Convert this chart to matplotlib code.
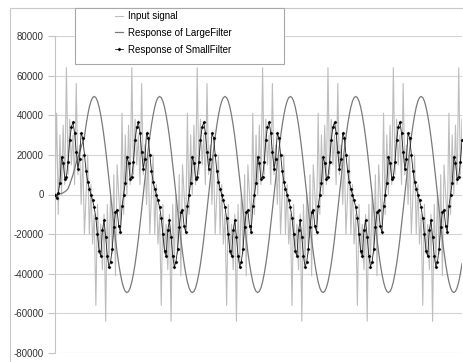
import numpy as np
import matplotlib
matplotlib.use("Agg")
import matplotlib.pyplot as plt
from matplotlib.patches import Rectangle

plt.rcParams['font.family'] = ['Liberation Sans', 'DejaVu Sans']
plt.rcParams['axes.unicode_minus'] = False

# values, one sample every ~1.6 px, 40 samples per cycle
input_signal = [
    0, 41000, -10000, 30000, 0, 35000, 5000, 64000, 10000, 38000,
    15000, 30000, 5000, 56000, 10000, 25000, -5000, 20000, -20000, 0,
    20000, -20000, 5000, -25000, -10000, -56000, -5000, -30000, -15000, -38000,
    -10000, -64000, -5000, -35000, 0, -30000, 10000, -41000, 15000, 0,
    -15000, 41000, -10000, 30000, 0, 35000, 5000, 64000, 10000, 38000,
    15000, 30000, 5000, 56000, 10000, 25000, -5000, 20000, -20000, 0,
    20000, -20000, 5000, -25000, -10000, -56000, -5000, -30000, -15000, -38000,
    -10000, -64000, -5000, -35000, 0, -30000, 10000, -41000, 15000, 0,
    -15000, 41000, -10000, 30000, 0, 35000, 5000, 64000, 10000, 38000,
    15000, 30000, 5000, 56000, 10000, 25000, -5000, 20000, -20000, 0,
    20000, -20000, 5000, -25000, -10000, -56000, -5000, -30000, -15000, -38000,
    -10000, -64000, -5000, -35000, 0, -30000, 10000, -41000, 15000, 0,
    -15000, 41000, -10000, 30000, 0, 35000, 5000, 64000, 10000, 38000,
    15000, 30000, 5000, 56000, 10000, 25000, -5000, 20000, -20000, 0,
    20000, -20000, 5000, -25000, -10000, -56000, -5000, -30000, -15000, -38000,
    -10000, -64000, -5000, -35000, 0, -30000, 10000, -41000, 15000, 0,
    -15000, 41000, -10000, 30000, 0, 35000, 5000, 64000, 10000, 38000,
    15000, 30000, 5000, 56000, 10000, 25000, -5000, 20000, -20000, 0,
    20000, -20000, 5000, -25000, -10000, -56000, -5000, -30000, -15000, -38000,
    -10000, -64000, -5000, -35000, 0, -30000, 10000, -41000, 15000, 0,
    -15000, 41000, -10000, 30000, 0, 35000, 5000, 64000, 10000, 38000,
    15000, 30000, 5000, 56000, 10000, 25000, -5000, 20000, -20000, 0,
    20000, -20000, 5000, -25000, -10000, -56000, -5000, -30000, -15000, -38000,
    -10000, -64000, -5000, -35000, 0, -30000, 10000, -41000, 15000, 0,
    -15000, 41000, -10000, 30000, 0, 35000, 5000, 64000, 10000, 38000,
]

large_filter = [
    0, 0, 100, 300, 500, 900, 1400, 2000, 3000, 5000,
    7500, 10000, 13000, 16000, 18500, 21000, 24000, 26500, 29100, 35000,
    40000, 44100, 47100, 48900, 49500, 48900, 47100, 44100, 40000, 35000,
    29100, 22500, 15300, 7700, 0, -7700, -15300, -22500, -29100, -35000,
    -40000, -44100, -47100, -48900, -49500, -48900, -47100, -44100, -40000, -35000,
    -29100, -22500, -15300, -7700, 0, 7700, 15300, 22500, 29100, 35000,
    40000, 44100, 47100, 48900, 49500, 48900, 47100, 44100, 40000, 35000,
    29100, 22500, 15300, 7700, 0, -7700, -15300, -22500, -29100, -35000,
    -40000, -44100, -47100, -48900, -49500, -48900, -47100, -44100, -40000, -35000,
    -29100, -22500, -15300, -7700, 0, 7700, 15300, 22500, 29100, 35000,
    40000, 44100, 47100, 48900, 49500, 48900, 47100, 44100, 40000, 35000,
    29100, 22500, 15300, 7700, 0, -7700, -15300, -22500, -29100, -35000,
    -40000, -44100, -47100, -48900, -49500, -48900, -47100, -44100, -40000, -35000,
    -29100, -22500, -15300, -7700, 0, 7700, 15300, 22500, 29100, 35000,
    40000, 44100, 47100, 48900, 49500, 48900, 47100, 44100, 40000, 35000,
    29100, 22500, 15300, 7700, 0, -7700, -15300, -22500, -29100, -35000,
    -40000, -44100, -47100, -48900, -49500, -48900, -47100, -44100, -40000, -35000,
    -29100, -22500, -15300, -7700, 0, 7700, 15300, 22500, 29100, 35000,
    40000, 44100, 47100, 48900, 49500, 48900, 47100, 44100, 40000, 35000,
    29100, 22500, 15300, 7700, 0, -7700, -15300, -22500, -29100, -35000,
    -40000, -44100, -47100, -48900, -49500, -48900, -47100, -44100, -40000, -35000,
    -29100, -22500, -15300, -7700, 0, 7700, 15300, 22500, 29100, 35000,
    40000, 44100, 47100, 48900, 49500, 48900, 47100, 44100, 40000, 35000,
    29100, 22500, 15300, 7700, 0, -7700, -15300, -22500, -29100, -35000,
    -40000, -44100, -47100, -48900, -49500, -48900, -47100, -44100, -40000, -35000,
]

small_filter = [
    0, -2000, 1000, 6000, 19000, 16000, 8000, 9000, 16500, 27500,
    34000, 36500, 31000, 21500, 13000, 18000, 31000, 28500, 20000, 12000,
    6500, 3000, 0, -3000, -6500, -12000, -20000, -28500, -31000, -18000,
    -13000, -21500, -31000, -36500, -34000, -27500, -16500, -9000, -8000, -16000,
    -19000, -6000, 0, 6000, 19000, 16000, 8000, 9000, 16500, 27500,
    34000, 36500, 31000, 21500, 13000, 18000, 31000, 28500, 20000, 12000,
    6500, 3000, 0, -3000, -6500, -12000, -20000, -28500, -31000, -18000,
    -13000, -21500, -31000, -36500, -34000, -27500, -16500, -9000, -8000, -16000,
    -19000, -6000, 0, 6000, 19000, 16000, 8000, 9000, 16500, 27500,
    34000, 36500, 31000, 21500, 13000, 18000, 31000, 28500, 20000, 12000,
    6500, 3000, 0, -3000, -6500, -12000, -20000, -28500, -31000, -18000,
    -13000, -21500, -31000, -36500, -34000, -27500, -16500, -9000, -8000, -16000,
    -19000, -6000, 0, 6000, 19000, 16000, 8000, 9000, 16500, 27500,
    34000, 36500, 31000, 21500, 13000, 18000, 31000, 28500, 20000, 12000,
    6500, 3000, 0, -3000, -6500, -12000, -20000, -28500, -31000, -18000,
    -13000, -21500, -31000, -36500, -34000, -27500, -16500, -9000, -8000, -16000,
    -19000, -6000, 0, 6000, 19000, 16000, 8000, 9000, 16500, 27500,
    34000, 36500, 31000, 21500, 13000, 18000, 31000, 28500, 20000, 12000,
    6500, 3000, 0, -3000, -6500, -12000, -20000, -28500, -31000, -18000,
    -13000, -21500, -31000, -36500, -34000, -27500, -16500, -9000, -8000, -16000,
    -19000, -6000, 0, 6000, 19000, 16000, 8000, 9000, 16500, 27500,
    34000, 36500, 31000, 21500, 13000, 18000, 31000, 28500, 20000, 12000,
    6500, 3000, 0, -3000, -6500, -12000, -20000, -28500, -31000, -18000,
    -13000, -21500, -31000, -36500, -34000, -27500, -16500, -9000, -8000, -16000,
    -19000, -6000, 0, 6000, 19000, 16000, 8000, 9000, 16500, 27500,
]

series_labels = ["Input signal", "Response of LargeFilter", "Response of SmallFilter"]
y_ticks = [-80000, -60000, -40000, -20000, 0, 20000, 40000, 60000, 80000]

W, H = 463, 362
fig = plt.figure(figsize=(W / 100, H / 100), dpi=100)
ax = fig.add_axes([55 / W, 1 - 353 / H, (462 - 55) / W, (353 - 36) / H])

x = np.arange(len(input_signal))
ax.plot(x, input_signal, color='#bdbdbd', lw=0.8, label=series_labels[0], zorder=2)
ax.plot(x, large_filter, color='#7a7a7a', lw=0.9, label=series_labels[1], zorder=3)
ax.plot(x, small_filter, color='#222222', lw=0.6, marker='D', ms=1.6, mew=0.3,
        mfc='black', mec='black', label=series_labels[2], zorder=4)

ax.set_xlim(0, len(input_signal) - 1)
ax.set_ylim(-80000, 80000)
ax.set_yticks(y_ticks)
ax.set_yticklabels([str(v) for v in y_ticks])
ax.set_xticks([])
ax.grid(axis='y', color='#d4d4d4', lw=0.8)
ax.set_axisbelow(True)
for s in ['top', 'right', 'bottom']:
    ax.spines[s].set_visible(False)
ax.spines['left'].set_color('#c4c4c4')
ax.tick_params(axis='y', length=5, color='#c4c4c4', labelsize=7, labelcolor='#333333', pad=3)

# chart area border (cropped on right and bottom)
fig.add_artist(Rectangle((10 / W, -0.1), 1.2, (H - 8) / H + 0.1, transform=fig.transFigure,
                         fill=False, edgecolor='#c8c8c8', lw=0.8))
# legend box
fig.add_artist(Rectangle((75 / W, 1 - 64 / H), (284 - 75) / W, (64 - 8) / H,
                         transform=fig.transFigure, facecolor='white',
                         edgecolor='#a8a8a8', lw=0.8, zorder=2))
handles, labels = ax.get_legend_handles_labels()
leg = fig.legend(handles, labels, loc='upper left', bbox_to_anchor=(115 / W, 1 - 11 / H),
                 frameon=False, fontsize=7, handlelength=0.8, handletextpad=0.5,
                 labelspacing=0.7, borderpad=0, borderaxespad=0, numpoints=1)
leg.set_zorder(5)

fig.savefig('out.png', dpi=100)
